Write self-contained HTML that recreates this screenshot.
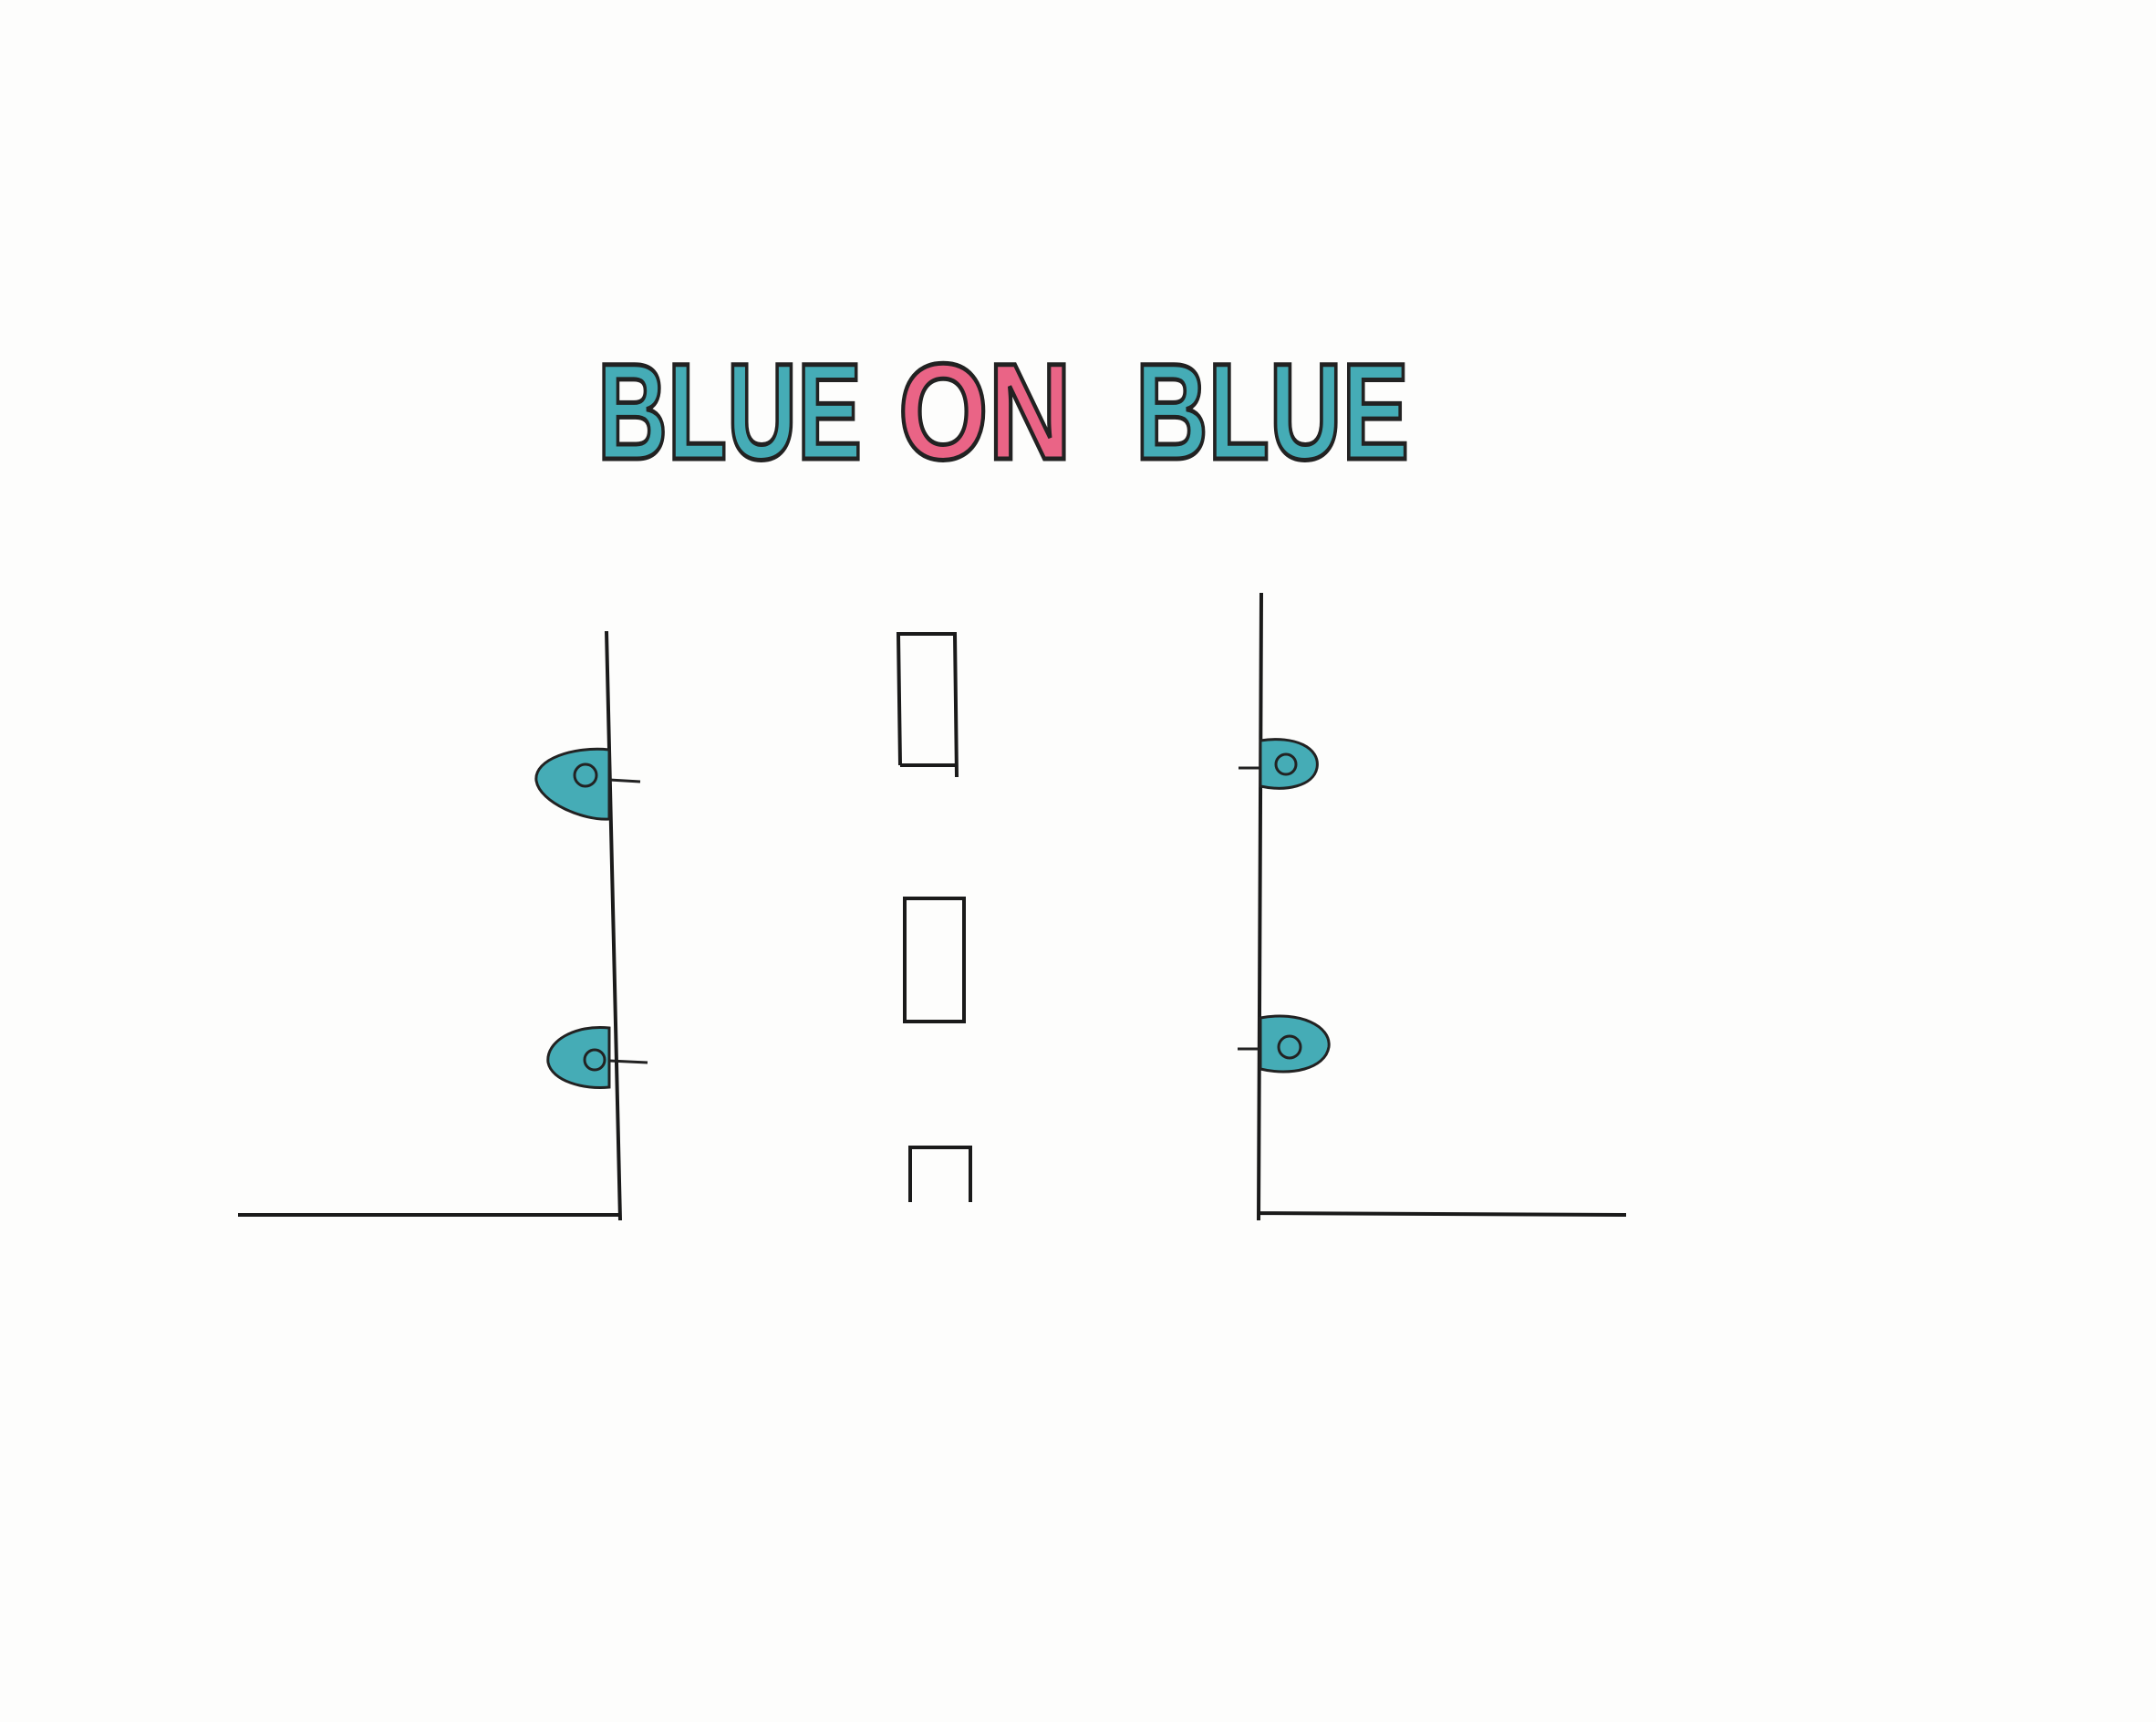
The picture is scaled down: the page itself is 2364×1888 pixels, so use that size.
<!DOCTYPE html>
<html><head><meta charset="utf-8"><style>
html,body{margin:0;padding:0;background:#fdfdfc;}
svg{display:block}
</style></head><body>
<svg width="2364" height="1888" viewBox="0 0 2364 1888">
<rect width="2364" height="1888" fill="#fdfdfc"/>
<g font-family="Liberation Sans, sans-serif" font-weight="bold" font-size="150" stroke="#222" stroke-width="5">
<text x="655" y="503" fill="#45acb6" textLength="290" lengthAdjust="spacingAndGlyphs">BLUE</text>
<text x="985" y="503" fill="#ea6486" textLength="190" lengthAdjust="spacingAndGlyphs">ON</text>
<text x="1245" y="503" fill="#45acb6" textLength="300" lengthAdjust="spacingAndGlyphs">BLUE</text>
</g>
<g stroke="#1a1a1a" stroke-width="4" fill="none">
<path d="M261 1332 L680 1332 M665 692 L680 1338"/>
<path d="M1383 650 L1380 1338 M1380 1330 L1783 1332"/>
<path d="M987 839 L985 695 L1047 695 L1049 852 M987 839 L1047 839"/>
<rect x="992" y="985" width="65" height="135"/>
<path d="M998 1318 L998 1258 L1064 1258 L1064 1318"/>
</g>
<g>
<g>
<path d="M668 822 C630 818 585 832 588 856 C592 880 640 900 668 898 Z" fill="#45acb6" stroke="#222" stroke-width="3"/>
<circle cx="642" cy="850" r="12" fill="none" stroke="#222" stroke-width="3"/>
<path d="M668 855 L702 857" stroke="#222" stroke-width="3"/>
</g>
<g>
<path d="M668 1127 C630 1123 598 1142 601 1165 C605 1185 640 1195 668 1192 Z" fill="#45acb6" stroke="#222" stroke-width="3"/>
<circle cx="652" cy="1162" r="11" fill="none" stroke="#222" stroke-width="3"/>
<path d="M668 1163 L710 1165" stroke="#222" stroke-width="3"/>
</g>
</g>
<g>
<g>
<path d="M1382 812 C1420 806 1448 820 1444 842 C1440 862 1410 868 1382 862 Z" fill="#45acb6" stroke="#222" stroke-width="3"/>
<circle cx="1410" cy="838" r="11" fill="none" stroke="#222" stroke-width="3"/>
<path d="M1358 842 L1382 842" stroke="#222" stroke-width="3"/>
</g>
<g>
<path d="M1382 1116 C1425 1108 1460 1125 1457 1148 C1453 1172 1415 1180 1382 1172 Z" fill="#45acb6" stroke="#222" stroke-width="3"/>
<circle cx="1414" cy="1148" r="12" fill="none" stroke="#222" stroke-width="3"/>
<path d="M1357 1150 L1382 1150" stroke="#222" stroke-width="3"/>
</g>
</g>
</svg>
</body></html>
